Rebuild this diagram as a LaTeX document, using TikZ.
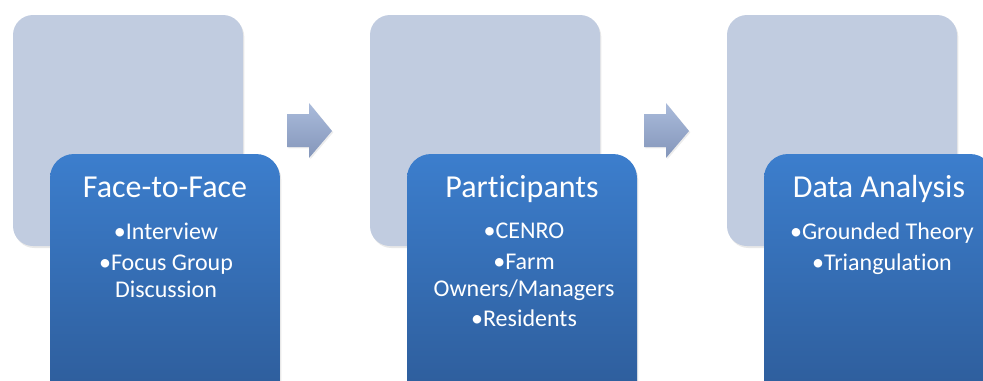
\documentclass[tikz,border=0pt]{standalone}
\usepackage{fontspec}
\setmainfont{Carlito}[Ligatures=NoCommon]
\usetikzlibrary{shadows}

\definecolor{backblue}{HTML}{C1CCE0}
\definecolor{fronttop}{HTML}{3C7ECD}
\definecolor{frontbot}{HTML}{2D5B98}
\definecolor{arrowtop}{HTML}{AABBDB}
\definecolor{arrowbot}{HTML}{8496BA}

\tikzset{
  backbox/.style={fill=backblue, rounded corners=15pt,
    drop shadow={opacity=0.18, shadow xshift=1pt, shadow yshift=-1.5pt}},
  frontbox/.style={top color=fronttop, bottom color=frontbot, rounded corners=18pt,
    drop shadow={opacity=0.18, shadow xshift=1pt, shadow yshift=-1.5pt}},
  blockarrow/.style={top color=arrowtop, bottom color=arrowbot,
    drop shadow={opacity=0.15, shadow xshift=1pt, shadow yshift=-1pt}},
  title/.style={text=white, font=\fontsize{24}{28}\selectfont, anchor=base},
  items/.style={text=white, font=\fontsize{18}{20}\selectfont, align=center, anchor=north, inner sep=0pt}
}

\begin{document}
\begin{tikzpicture}[x=0.75pt,y=-0.75pt]
  \useasboundingbox (0,0) rectangle (983,380);
  \clip (0,0) rectangle (983,380);

  % Back panels
  \path[backbox] (13,15) rectangle (243,246);
  \path[backbox] (370,15) rectangle (600,246);
  \path[backbox] (727,15) rectangle (957,246);

  % Block arrows
  \path[blockarrow] (287,114) -- (309,114) -- (309,103) -- (332,131)
    -- (309,158) -- (309,147) -- (287,147) -- cycle;
  \path[blockarrow] (644,114) -- (666,114) -- (666,103) -- (689,131)
    -- (666,158) -- (666,147) -- (644,147) -- cycle;

  % Front panels
  \path[frontbox] (50,154) rectangle (280,410);
  \path[frontbox] (407,154) rectangle (637,410);
  \path[frontbox] (764,154) rectangle (994,410);

  % Titles
  \node[title] (face) at (165,197) {Face-to-Face};
  \node[title] (part) at (522,197) {Participants};
  \node[title] (data) at (879,197) {Data Analysis};

  % Bullet lists
  \node[items] (faceitems) at (166,223) {•Interview\\[3pt]•Focus Group\\ Discussion};
  \node[items] (partitems) at (524,223) {•CENRO\\[3pt]•Farm\\Owners/Managers\\[3pt]•Residents};
  \node[items] (dataitems) at (882,223) {•Grounded Theory\\[3pt]•Triangulation};
\end{tikzpicture}
\end{document}
